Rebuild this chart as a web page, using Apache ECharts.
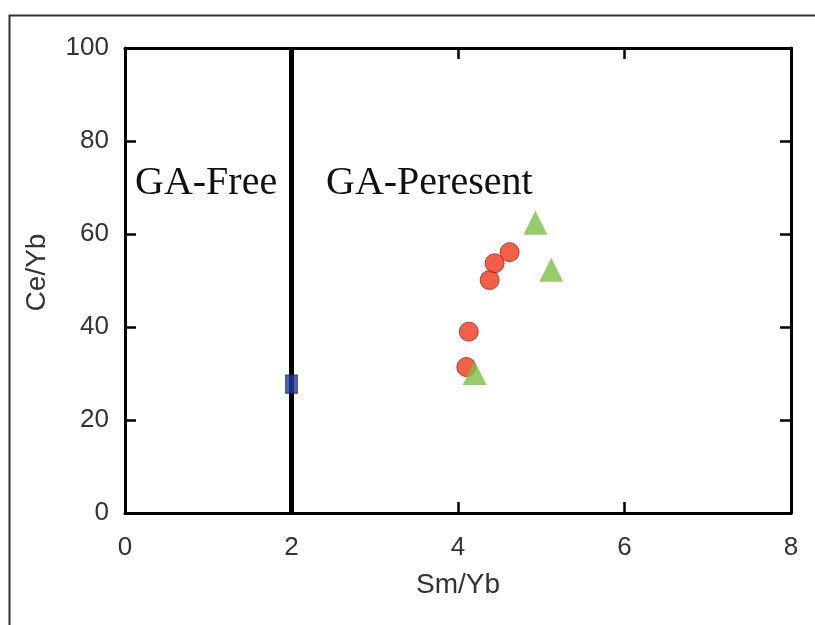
<!DOCTYPE html>
<html>
<head>
<meta charset="utf-8">
<style>html,body{margin:0;padding:0;background:#fff;}#c{width:815px;height:625px;}</style>
<script src="https://cdn.jsdelivr.net/npm/echarts@6/dist/echarts.min.js"></script>
</head>
<body>
<div id="c"></div>
<script>
// Data
const xTicks = [0, 2, 4, 6, 8];
const yTicks = [0, 20, 40, 60, 80, 100];
const boundaryX = [[2, 0], [2, 100]];
const gaFreeSample = [[2.0, 27.7]];
const circleSamples = [[4.10, 31.4], [4.13, 39.0], [4.38, 50.1], [4.44, 53.7], [4.62, 56.1]];
const triangleSamples = [[4.20, 30.1], [4.93, 62.4], [5.12, 52.3]];
const regionLabels = ['GA-Free', 'GA-Peresent'];

const chart = echarts.init(document.getElementById('c'), null, {renderer: 'canvas'});
const axisCommon = {
  axisLine: {show: true, onZero: false, lineStyle: {color: '#000', width: 3}},
  axisTick: {show: true, inside: true, length: 11, lineStyle: {color: '#000', width: 2.5}},
  splitLine: {show: false}
};
const labelFont = {color: '#333', fontSize: 26, fontFamily: 'Liberation Sans, Arial, sans-serif'};
chart.setOption({
  animation: false,
  backgroundColor: '#fff',
  grid: {left: 125, top: 48, right: 24, bottom: 112, containLabel: false},
  xAxis: [
    Object.assign({}, axisCommon, {
      type: 'value', position: 'bottom', min: xTicks[0], max: xTicks[xTicks.length - 1], interval: 2,
      name: 'Sm/Yb', nameLocation: 'middle', nameGap: 58,
      nameTextStyle: {color: '#333', fontSize: 28, fontFamily: 'Liberation Sans, Arial, sans-serif'},
      axisLabel: Object.assign({margin: 22}, labelFont)
    }),
    Object.assign({}, axisCommon, {
      type: 'value', position: 'top', min: xTicks[0], max: xTicks[xTicks.length - 1], interval: 2,
      axisLabel: {show: false}
    })
  ],
  yAxis: [
    Object.assign({}, axisCommon, {
      type: 'value', position: 'left', min: yTicks[0], max: yTicks[yTicks.length - 1], interval: 20,
      name: 'Ce/Yb', nameLocation: 'middle', nameGap: 74, nameRotate: 90,
      nameTextStyle: {color: '#333', fontSize: 28, fontFamily: 'Liberation Sans, Arial, sans-serif', padding: [0, 0, 0, 16]},
      axisLabel: Object.assign({margin: 16}, labelFont)
    }),
    Object.assign({}, axisCommon, {
      type: 'value', position: 'right', min: yTicks[0], max: yTicks[yTicks.length - 1], interval: 20,
      axisLabel: {show: false}
    })
  ],
  graphic: [
    {type: 'rect', left: 7, top: 13, z: -1, silent: true,
      shape: {width: 900, height: 700},
      style: {fill: 'none', stroke: '#333', lineWidth: 2}},
    {type: 'text', x: 135, y: 183, silent: true,
      style: {text: regionLabels[0], font: '40px "Liberation Serif", "Times New Roman", serif', fill: '#111', textVerticalAlign: 'middle'}},
    {type: 'text', x: 326, y: 183, silent: true,
      style: {text: regionLabels[1], font: '40px "Liberation Serif", "Times New Roman", serif', fill: '#111', textVerticalAlign: 'middle'}}
  ],
  series: [
    {type: 'line', data: boundaryX, symbol: 'none', lineStyle: {color: '#000', width: 5}, z: 2, silent: true},
    {type: 'scatter', data: circleSamples, symbol: 'circle', symbolSize: 19,
      itemStyle: {color: '#ee3a1c', borderColor: '#b81a10', borderWidth: 1}, z: 3},
    {type: 'scatter', data: triangleSamples, symbol: 'triangle', symbolSize: 24,
      itemStyle: {color: '#7cc045'}, z: 4},
    {type: 'scatter', data: gaFreeSample, symbol: 'rect', symbolSize: [12, 18],
      itemStyle: {color: '#1f3aa0', borderColor: '#14287a', borderWidth: 1}, z: 5}
  ]
});
</script>
</body>
</html>
